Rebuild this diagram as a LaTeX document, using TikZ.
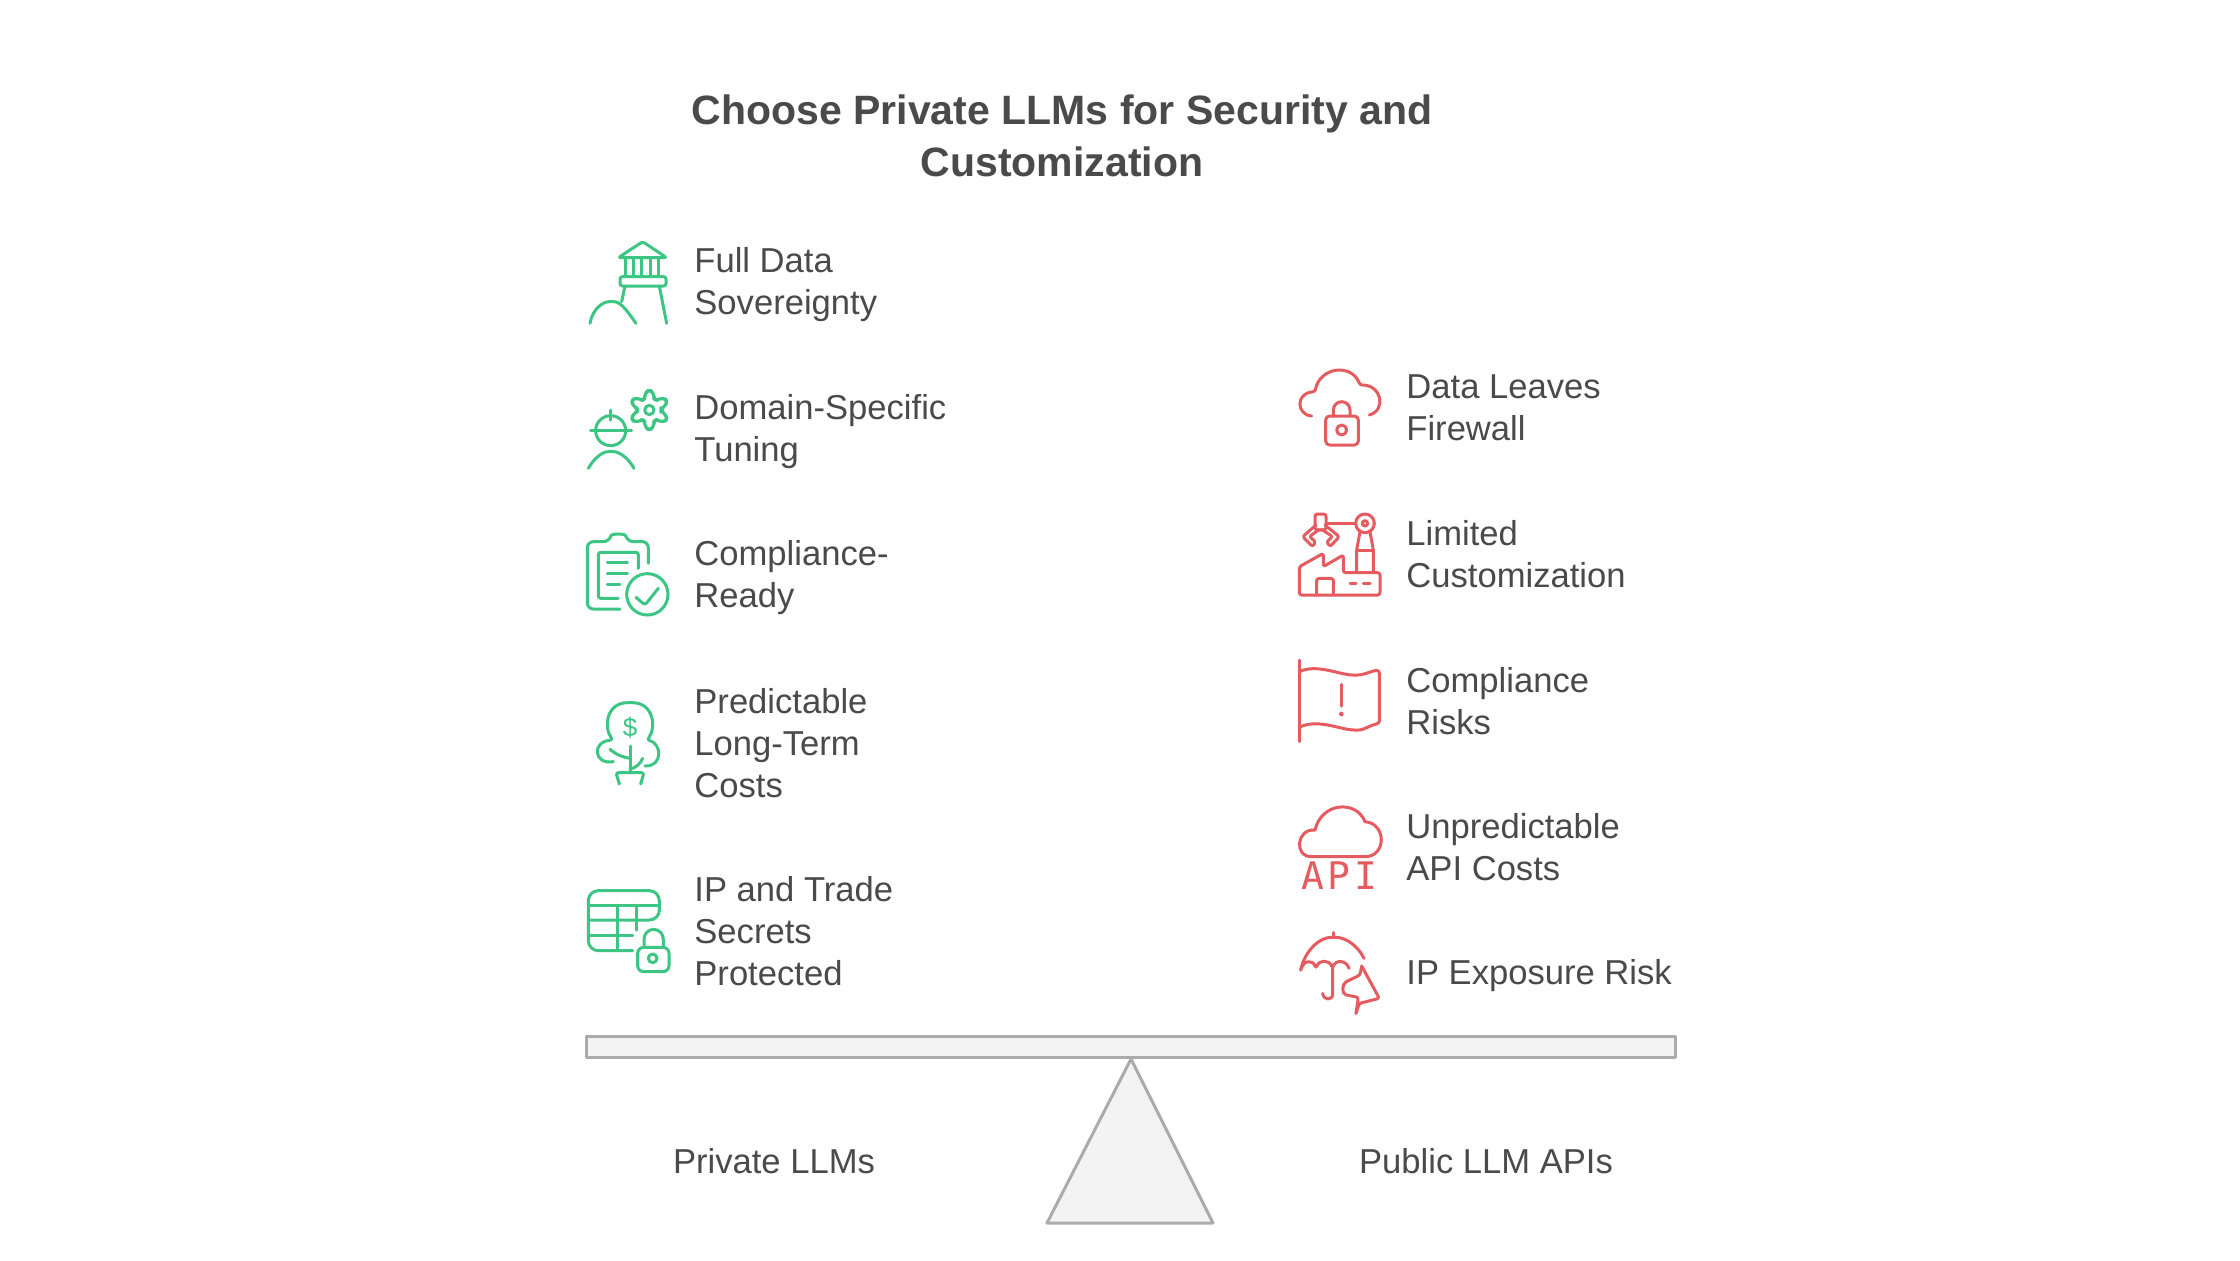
\documentclass[tikz,border=0pt]{standalone}
\usepackage{fontspec}
\setmainfont{Liberation Sans}
\newfontfamily\apifont[LetterSpace=10]{DejaVu Sans Mono}
\definecolor{ink}{HTML}{4A4A4A}
\definecolor{gicon}{HTML}{3CC583}
\definecolor{ricon}{HTML}{E55B60}
\definecolor{beamfill}{HTML}{F3F3F3}
\definecolor{beamline}{HTML}{ABABAB}
\tikzset{
  lab/.style={anchor=west,inner sep=0pt,align=left,text=ink,font=\fontsize{17.3}{21}\selectfont},
  side/.style={anchor=center,inner sep=0pt,text=ink,font=\fontsize{17.3}{21}\selectfont},
  ttl/.style={anchor=center,inner sep=0pt,align=center,text=ink,font=\fontsize{20.5}{26.2}\selectfont\bfseries},
  ic/.style={line width=1.5pt,line cap=round,line join=round,rounded corners=1.2pt},
  gi/.style={ic,draw=gicon},
  ri/.style={ic,draw=ricon},
  beam/.style={draw=beamline,fill=beamfill,line width=1.5pt,line join=round}
}
\begin{document}
\begin{tikzpicture}[x=0.5pt,y=-0.5pt]
\useasboundingbox (0,0) rectangle (2240,1260);
\fill[white] (0,0) rectangle (2240,1260);
\node[ttl] (title) at (1062,136) {Choose Private LLMs for Security and\\Customization};
% left labels
\node[lab] (l1) at (694,285) {Full Data\\Sovereignty};
\node[lab] (l2) at (694,432) {Domain-Specific\\Tuning};
\node[lab] (l3) at (694,578) {Compliance-\\Ready};
\node[lab] (l4) at (694,743) {Predictable\\Long-Term\\Costs};
\node[lab] (l5) at (694,931) {IP and Trade\\Secrets\\Protected};
% right labels
\node[lab] (r1) at (1406,408) {Data Leaves\\Firewall};
\node[lab] (r2) at (1406,554) {Limited\\Customization};
\node[lab] (r3) at (1406,701) {Compliance\\Risks};
\node[lab] (r4) at (1406,847) {Unpredictable\\API Costs};
\node[lab] (r5) at (1406,976) {IP Exposure Risk};
% beam
\node[side] (pl) at (774,1161) {Private LLMs};
\node[side] (pu) at (1486,1161) {Public LLM APIs};
\draw[beam] (586,1036) rectangle (1675,1057);
\draw[beam] (1131,1059) -- (1213,1223) -- (1047,1223) -- cycle;
% lighthouse + worker
\begin{scope}[shift={(570,220)},scale=1/3]
\draw[gi] (145,113) -- (218,65) -- (290,113) -- cycle;
\foreach \i in {165,190,215,240,265} \draw[gi] (\i,113) -- (\i,168);
\draw[gi] (150,170) rectangle (288,198);
\draw[gi] (165,198) -- (155,245);
\draw[gi] (268,198) -- (290,310);
\draw[gi] (60,310) .. controls (68,265) and (100,245) .. (125,245) .. controls (155,245) and (180,285) .. (198,310);
\draw[gi] plot[domain=0:360,samples=73,smooth cycle] ({238+(47-10*cos(6*\x))*cos(\x)},{570+(47-10*cos(6*\x))*sin(\x)});
\draw[gi] (238,570) circle (14);
\draw[gi] (122,632) circle (45);
\draw[gi] (62,632) -- (185,632);
\draw[gi] (122,570) -- (122,600);
\draw[gi] (55,745) .. controls (75,710) and (100,695) .. (122,695) .. controls (150,695) and (175,715) .. (192,745);
\end{scope}
% clipboard + tree
\begin{scope}[shift={(570,520)},scale=1/3]
\draw[gi,rounded corners=3pt] (150,267) -- (52,267) -- (52,65) -- (118,65) .. controls (125,40) and (165,40) .. (172,65) -- (235,65) -- (235,130);
\draw[gi] (145,235) -- (85,235) -- (85,97) -- (205,97) -- (205,145);
\draw[gi] (112,128) -- (172,128);
\draw[gi] (112,160) -- (172,160);
\draw[gi] (112,192) -- (150,192);
\draw[gi] (232,223) circle (62);
\draw[gi] (198,232) -- (225,255) -- (265,205);
\draw[gi] (130,725) .. controls (70,735) and (65,665) .. (128,660) .. controls (100,620) and (110,548) .. (180,548) .. controls (250,548) and (260,620) .. (232,660) .. controls (275,670) and (280,740) .. (225,738);
\draw[gi] (180,678) -- (180,755);
\draw[gi] (120,688) .. controls (140,705) and (160,712) .. (180,715);
\draw[gi] (180,748) .. controls (200,742) and (212,730) .. (218,715);
\draw[gi] (148,792) -- (138,758) -- (222,758) -- (212,792);
\node[inner sep=0pt,text=gicon,font=\fontsize{13}{13}\selectfont] (dollar) at (180,622) {\$};
\end{scope}
% table + lock
\begin{scope}[shift={(570,860)},scale=1/3]
\draw[gi,rounded corners=5pt] (188,272) -- (55,272) -- (55,92) -- (268,92) -- (268,180) -- (55,180);
\draw[gi] (55,135) -- (268,135);
\draw[gi] (55,226) -- (188,226);
\draw[gi] (142,135) -- (142,272);
\draw[gi] (200,135) -- (200,210);
\draw[gi,rounded corners=3pt] (203,262) rectangle (297,335);
\draw[gi,rounded corners=0pt] (222,262) -- (222,238) arc[start angle=180,end angle=0,x radius=29,y radius=-30] -- (280,262);
\draw[gi] (248,295) circle (13);
\end{scope}
% cloud lock + factory
\begin{scope}[shift={(1280,350)},scale=1/3]
\draw[ri] (95,198) .. controls (50,195) and (45,130) .. (105,125) .. controls (120,50) and (215,40) .. (240,105) .. controls (305,105) and (320,180) .. (268,195);
\draw[ri,rounded corners=2pt] (137,198) rectangle (235,285);
\draw[ri,rounded corners=0pt] (160,198) -- (160,180) arc[start angle=180,end angle=0,x radius=25,y radius=-25] -- (210,198);
\draw[ri] (185,240) circle (15);
\draw[ri] (58,735) -- (58,650) -- (130,610) -- (130,650) -- (190,615) -- (190,668) -- (300,668) -- (300,735) -- cycle;
\draw[ri] (110,735) -- (110,685) -- (160,685) -- (160,735);
\draw[ri] (210,700) -- (228,700);
\draw[ri] (250,700) -- (270,700);
\draw[ri] (230,668) -- (230,600) -- (240,545);
\draw[ri] (280,668) -- (280,600) -- (270,545);
\draw[ri] (230,600) -- (280,600);
\draw[ri] (255,520) circle (28);
\draw[ri] (255,520) circle (8);
\draw[ri] (140,520) -- (227,520);
\draw[ri] (105,492) rectangle (138,540);
\draw[ri] (108,525) -- (68,560) -- (98,590) -- (107,575) -- (88,560) -- (118,538);
\draw[ri] (135,525) -- (178,560) -- (150,590) -- (140,575) -- (158,560) -- (125,538);
\end{scope}
% flag + api cloud
\begin{scope}[shift={(1280,640)},scale=1/3]
\draw[ri] (58,60) -- (58,305);
\draw[ri] (58,95) .. controls (110,70) and (180,105) .. (225,105) .. controls (255,105) and (280,90) .. (298,92) -- (298,250) .. controls (270,255) and (250,272) .. (225,270) .. controls (180,268) and (110,235) .. (58,262);
\draw[ri] (184,133) -- (184,198);
\fill[ricon] (184,222) circle (7);
\draw[ri,rounded corners=0pt] (95,650) -- (255,650) .. controls (320,650) and (320,550) .. (255,545) .. controls (230,480) and (125,485) .. (105,570) .. controls (50,565) and (40,650) .. (95,650) -- cycle;
\node[inner sep=0pt,text=ricon,font=\apifont\fontsize{19}{19}\selectfont] (api) at (178,708) {API};
\end{scope}
% umbrella
\begin{scope}[shift={(1280,920)},scale=1/3]
\draw[ri] (62,150) .. controls (75,90) and (120,52) .. (160,52) .. controls (200,52) and (235,80) .. (252,115);
\draw[ri] (160,38) -- (160,52);
\draw[ri] (62,150) .. controls (70,120) and (98,118) .. (108,145) .. controls (115,120) and (148,118) .. (157,145) .. controls (165,120) and (198,118) .. (207,145);
\draw[ri] (158,135) -- (158,215) .. controls (158,242) and (130,242) .. (128,220);
\draw[ri] (245,138) -- (298,235) -- (238,250) -- (228,280);
\draw[ri] (245,138) -- (240,165) -- (205,182) .. controls (185,192) and (185,222) .. (205,226) -- (235,232) -- (228,280);
\end{scope}
\end{tikzpicture}
\end{document}
